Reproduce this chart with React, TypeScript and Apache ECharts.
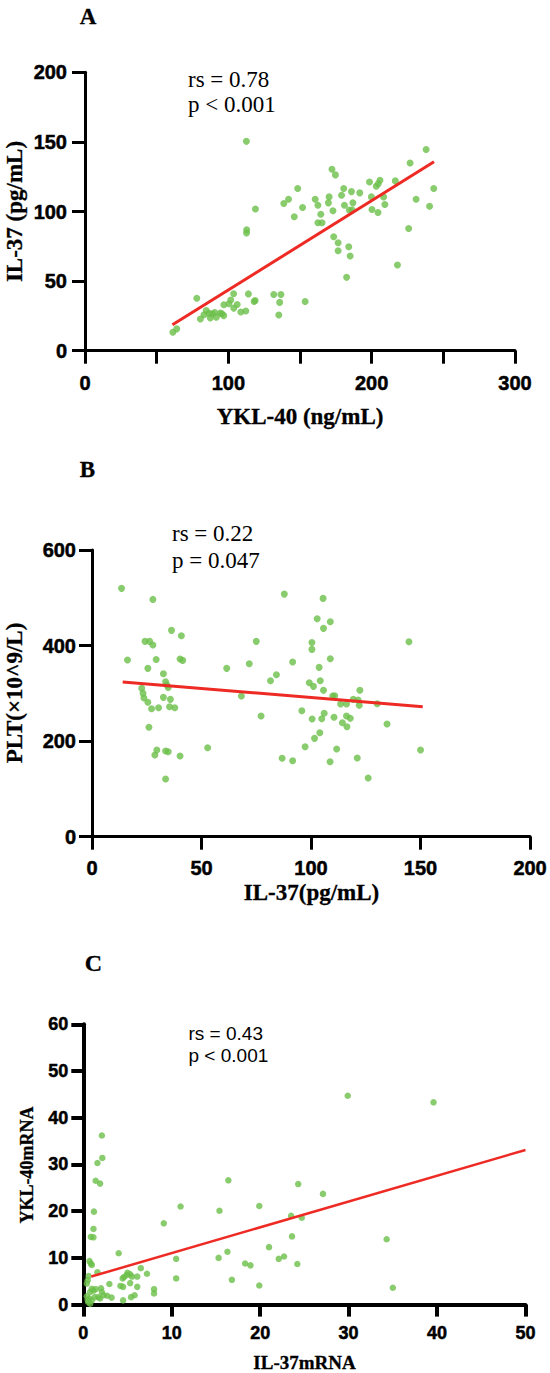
import React, { useEffect, useRef } from "react";
import * as echarts from "echarts";

// Panel A: YKL-40 (x) vs IL-37 (y)
const ykl40A: number[] = [61.3, 64, 78, 80.5, 83, 84.6, 86.5, 87.4, 88.8, 90.5, 91.6, 94.4, 95.5, 96.8, 96.9, 100.4, 101.7, 103.7, 103.8, 106.2, 108.7, 112.2, 114, 118, 118.7, 112.6, 112.8, 112.7, 118.9, 131.7, 136.7, 135.8, 135.2, 153.6, 138.7, 142, 146, 148.4, 151.8, 160.6, 162.5, 164.5, 162.5, 165.4, 169.8, 170.3, 172.3, 174.7, 173, 173.5, 176.6, 176.6, 179, 180.5, 181, 184, 185, 182.5, 184.4, 185.9, 186.9, 186.4, 191.7, 198.5, 199.8, 200.2, 203.2, 204.6, 205.8, 204.4, 208.3, 209.2, 216.5, 218, 225.8, 226.8, 231, 238, 240.4, 243.3];
const il37A: number[] = [13.3, 15.7, 37.7, 22.8, 25.8, 28.9, 26.9, 23.6, 26.6, 27.5, 24, 27, 26.5, 25.2, 33, 33.7, 36.4, 40.9, 30.6, 33.2, 27.8, 28.5, 40.8, 35.3, 36, 150.4, 86.8, 84.6, 101.8, 40.4, 40.4, 34.7, 25.6, 35.3, 105.7, 108.8, 96.2, 116.5, 102.9, 108.8, 104.5, 98, 91.9, 91.9, 106.2, 110.5, 130.3, 126.3, 100.5, 81.9, 77.6, 71.8, 111.7, 116.5, 104.5, 74.7, 68, 52.7, 101, 114.3, 106.2, 101, 113.4, 121.2, 110.5, 101.4, 118.1, 120, 122.4, 99.3, 110.5, 105, 122, 61.6, 87.8, 134.8, 108.8, 144.6, 103.8, 116.5];
const fitXA: number[] = [61, 243.5];
const fitYA: number[] = [18.6, 135.7];
const xTicksA: number[] = [0, 100, 200, 300];

// Panel B: IL-37 (x) vs PLT (y)
const il37B: number[] = [13.5, 27.8, 16.2, 24.2, 26.3, 27.8, 25.5, 29.3, 36.3, 40.8, 40.2, 41.4, 32.6, 33.6, 34.2, 34.8, 22.7, 23.3, 23.7, 25.5, 32.6, 35.8, 27.2, 30.4, 35.4, 37.8, 26, 29.6, 28.7, 33.6, 34.8, 40.2, 33.6, 52.8, 61.5, 68.2, 71.8, 75, 77.2, 81.5, 84.2, 87.8, 86.8, 91.6, 91.6, 95.8, 97.3, 99.2, 100.4, 100.4, 101.1, 100.5, 101.6, 102.8, 103.7, 104.2, 104, 104.9, 105.5, 105.7, 105.7, 106, 108.8, 108.8, 108.7, 109.9, 110.8, 110.5, 111.7, 113.5, 114.3, 116.2, 116.2, 116.4, 117.9, 119.3, 121.5, 121.1, 122.3, 122, 126.1, 130.2, 134.7, 144.7, 150];
const pltB: number[] = [519.7, 496.6, 369.7, 408.8, 408.8, 401, 352.3, 371, 431.8, 420.5, 371.8, 369, 341, 324.3, 317.4, 312.5, 310.5, 300, 290.2, 281.2, 291.6, 287.4, 267.8, 269.9, 272, 269.9, 228.9, 181.4, 170.9, 179.3, 177.8, 168.8, 120.7, 186.2, 352.3, 294.4, 362, 408.8, 252.5, 326.4, 338.9, 507.7, 164, 159, 365.5, 263.6, 188.3, 322.2, 406.6, 392, 314.6, 246.2, 205.8, 456, 354.4, 326.4, 217.6, 246.9, 498.7, 436, 306.3, 258.2, 449.8, 372.4, 156.9, 294.4, 295, 249.8, 183.5, 277.6, 238.5, 277.6, 252.5, 230.1, 247.7, 287.4, 286, 164.6, 306.3, 274.9, 122.8, 278.2, 235.8, 408, 181.4];
const fitXB: number[] = [14, 151];
const fitYB: number[] = [324, 272];

// Panel C: IL-37 mRNA (x) vs YKL-40 mRNA (y)
const il37mC: number[] = [29.9, 39.6, 2.1, 2.15, 1.6, 1.4, 1.9, 1.2, 1.15, 0.85, 1.15, 16.4, 24.3, 27.1, 11, 15.4, 19.9, 9.1, 23.5, 24.7, 23.6, 34.3, 21, 4, 16.3, 10.5, 15.3, 22.7, 22.1, 18.3, 18.9, 24.2, 10.5, 16.8, 19.9, 35, 0.7, 0.85, 0.96, 1.6, 0.6, 0.5, 0.4, 0.96, 0.77, 1.15, 0.4, 0.7, 0.96, 0.55, 0.77, 1.3, 1.7, 2.1, 2.3, 1.9, 2.7, 3.2, 2.95, 4.45, 4.6, 4.9, 5.0, 5.3, 5.5, 6.1, 6.5, 7.2, 4.2, 4.5, 5.3, 6.1, 5.4, 5.8, 4.5, 8.0, 8.0, 1.4, 2.0, 0.5];
const ykl40mC: number[] = [44.7, 43.3, 36.2, 31.4, 30.3, 26.5, 25.9, 19.9, 16.2, 14.5, 14.4, 26.6, 25.8, 23.7, 21, 20.1, 21.1, 17.4, 19, 18.6, 14.6, 14, 12.3, 11, 11.3, 9.8, 10, 10.3, 9.8, 8.8, 8.4, 8.7, 5.6, 5.3, 4.1, 3.6, 9.3, 8.8, 8.5, 6.9, 6.1, 5.2, 4.5, 3.4, 2.7, 3.0, 1.8, 1.3, 0.9, 0.55, 0.2, 1.6, 1.6, 2.7, 2.0, 1.3, 1.9, 1.5, 4.4, 5.6, 5.9, 6.3, 6.8, 6.5, 6.0, 6.0, 7.8, 6.6, 4.0, 3.8, 4.6, 3.8, 1.6, 2.0, 0.9, 3.3, 2.4, 3.3, 3.5, 1.0];
const fitXC: number[] = [0.9, 50];
const fitYC: number[] = [6.0, 33.1];

const GREEN = "#6cbf4a";
const RED = "#ee2a24";
const SANS = "'Liberation Sans', Arial, sans-serif";
const SERIF = "'Liberation Serif', 'Times New Roman', serif";

const pairs = (xs: number[], ys: number[]) => xs.map((x, i) => [x, ys[i]]);

function axisBase(lineWidth: number, tickLen: number, fontSize: number, margin: number) {
  return {
    type: "value" as const,
    splitLine: { show: false },
    axisLine: { show: true, onZero: false, lineStyle: { color: "#000", width: lineWidth } },
    axisTick: { show: true, inside: false, length: tickLen, lineStyle: { color: "#000", width: lineWidth } },
    axisLabel: {
      color: "#000",
      fontFamily: SANS,
      fontWeight: "bold" as const,
      fontSize,
      margin,
      textBorderColor: "#000",
      textBorderWidth: 0.5,
    },
  };
}

function txt(
  text: string,
  x: number,
  y: number,
  font: { size: number; family: string; weight?: string; stroke?: number },
  align: string = "center",
  rotation = 0
) {
  return {
    type: "text",
    x,
    y,
    rotation,
    style: {
      text,
      fill: "#000",
      fontSize: font.size,
      fontFamily: font.family,
      fontWeight: font.weight || "normal",
      stroke: font.stroke ? "#000" : undefined,
      lineWidth: font.stroke || 0,
      align,
      verticalAlign: "middle",
    },
  };
}

export default function App() {
  const ref = useRef<HTMLDivElement>(null);

  useEffect(() => {
    document.body.style.margin = "0";
    if (!ref.current) return;
    const chart = echarts.init(ref.current, undefined, { renderer: "svg" });

    const titleFont = { size: 23, family: SERIF, weight: "bold", stroke: 0.3 };
    const noteFont = { size: 23, family: SERIF };

    chart.setOption({
      animation: false,
      backgroundColor: "#fff",
      grid: [
        { left: 85, top: 72.3, width: 430, height: 278.4 },
        { left: 92, top: 550, width: 441, height: 286.7 },
        { left: 83.3, top: 1024.3, width: 442.2, height: 280.3 },
      ],
      xAxis: [
        {
          ...axisBase(3, 13, 20, 22),
          gridIndex: 0,
          min: 0,
          max: 300,
          interval: 50,
          axisLabel: {
            ...axisBase(3, 13, 20, 22).axisLabel,
            formatter: (v: number) => (xTicksA.includes(v) ? String(v) : ""),
          },
        },
        { ...axisBase(3, 13, 20, 21), gridIndex: 1, min: 0, max: 200, interval: 50 },
        { ...axisBase(4, 12, 18, 19), gridIndex: 2, min: 0, max: 50, interval: 10 },
      ],
      yAxis: [
        { ...axisBase(3, 13, 20, 18), gridIndex: 0, min: 0, max: 200, interval: 50 },
        { ...axisBase(3, 13, 20, 16), gridIndex: 1, min: 0, max: 600, interval: 200 },
        { ...axisBase(4, 12, 18, 15), gridIndex: 2, min: 0, max: 60, interval: 10 },
      ],
      series: [
        {
          type: "scatter",
          xAxisIndex: 0,
          yAxisIndex: 0,
          data: pairs(ykl40A, il37A),
          symbolSize: 7,
          itemStyle: { color: GREEN },
        },
        {
          type: "line",
          xAxisIndex: 0,
          yAxisIndex: 0,
          data: pairs(fitXA, fitYA),
          showSymbol: false,
          z: 5,
          lineStyle: { color: RED, width: 3 },
        },
        {
          type: "scatter",
          xAxisIndex: 1,
          yAxisIndex: 1,
          data: pairs(il37B, pltB),
          symbolSize: 7,
          itemStyle: { color: GREEN },
        },
        {
          type: "line",
          xAxisIndex: 1,
          yAxisIndex: 1,
          data: pairs(fitXB, fitYB),
          showSymbol: false,
          z: 5,
          lineStyle: { color: RED, width: 3 },
        },
        {
          type: "scatter",
          xAxisIndex: 2,
          yAxisIndex: 2,
          data: pairs(il37mC, ykl40mC),
          symbolSize: 6.5,
          itemStyle: { color: GREEN },
        },
        {
          type: "line",
          xAxisIndex: 2,
          yAxisIndex: 2,
          data: pairs(fitXC, fitYC),
          showSymbol: false,
          z: 5,
          lineStyle: { color: RED, width: 2.5 },
        },
      ],
      graphic: [
        // Panel A
        txt("A", 88, 16, titleFont),
        txt("IL-37 (pg/mL)", 14, 211.5, titleFont, "center", Math.PI / 2),
        txt("YKL-40 (ng/mL)", 300, 416, titleFont),
        txt("rs = 0.78", 188, 79, noteFont, "left"),
        txt("p < 0.001", 188, 104, noteFont, "left"),
        // Panel B
        txt("B", 87.5, 469, titleFont),
        txt("PLT(×10^9/L)", 14, 693, titleFont, "center", Math.PI / 2),
        txt("IL-37(pg/mL)", 311.5, 892, titleFont),
        txt("rs = 0.22", 172, 533, noteFont, "left"),
        txt("p = 0.047", 172, 560, noteFont, "left"),
        // Panel C
        txt("C", 93.5, 963, { size: 24, family: SERIF, weight: "bold", stroke: 0.3 }),
        txt("YKL-40mRNA", 26.5, 1165, { size: 18, family: SERIF, weight: "bold", stroke: 0.3 }, "center", Math.PI / 2),
        txt("IL-37mRNA", 304.5, 1362, { size: 19, family: SERIF, weight: "bold", stroke: 0.3 }),
        txt("rs = 0.43", 188.5, 1033, { size: 19, family: SANS }, "left"),
        txt("p < 0.001", 188.5, 1055, { size: 19, family: SANS }, "left"),
      ],
    });

    return () => chart.dispose();
  }, []);

  return <div ref={ref} style={{ width: 550, height: 1373 }} />;
}
